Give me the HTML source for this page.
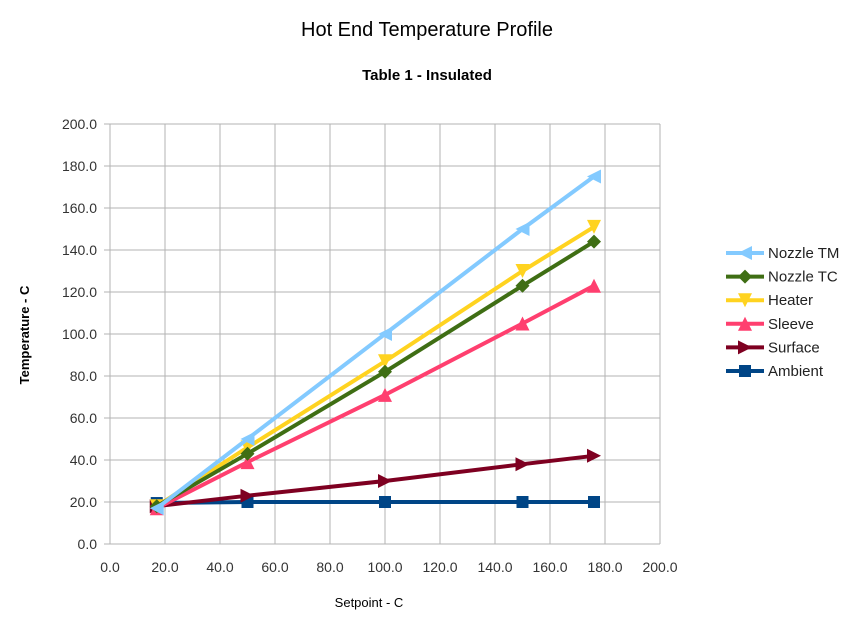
<!DOCTYPE html>
<html><head><meta charset="utf-8"><style>
body{margin:0;background:#fff;font-family:"Liberation Sans",sans-serif}
svg text{font-family:"Liberation Sans",sans-serif}
</style></head><body>
<svg id="chart" width="858" height="625">
<text x="427" y="36" font-size="20" text-anchor="middle">Hot End Temperature Profile</text>
<text x="427" y="80" font-size="15" font-weight="bold" text-anchor="middle">Table 1 - Insulated</text>
<text x="369" y="607" font-size="13" text-anchor="middle">Setpoint - C</text>
<text transform="translate(29,335) rotate(-90)" font-size="13" font-weight="bold" text-anchor="middle">Temperature - C</text>
<g id="grid"></g><g id="series"></g><g id="legend"></g>
</svg>
<script>
const xVals=[17,50,100,150,176];
const seriesNames=["Nozzle TM","Nozzle TC","Heater","Sleeve","Surface","Ambient"];
const nozzleTM=[17,50,100,150,175];
const nozzleTC=[18,43,82,123,144];
const heater=[18,46,87,130,151];
const sleeve=[17,39,71,105,123];
const surface=[18,23,30,38,42];
const ambient=[19.5,20,20,20,20];
const xTicks=[0,20,40,60,80,100,120,140,160,180,200];
const yTicks=[0,20,40,60,80,100,120,140,160,180,200];
const NS="http://www.w3.org/2000/svg";
const X=v=>110+v*2.75, Y=v=>544-v*2.1;
function mk(t,a,p){const e=document.createElementNS(NS,t);for(const k in a)e.setAttribute(k,a[k]);p.appendChild(e);return e;}
const g=document.getElementById('grid');
xTicks.forEach(t=>{const l=mk('line',{x1:X(t),x2:X(t),y1:Y(0),y2:Y(200)+0,stroke:'#b3b3b3','stroke-width':1},g);

const tx=mk('text',{x:X(t),y:572,'font-size':14,'text-anchor':'middle',fill:'#333'},g);tx.textContent=t.toFixed(1);
});
yTicks.forEach(t=>{const l=mk('line',{x1:X(0)-6,x2:X(200),y1:Y(t),y2:Y(t),stroke:'#b3b3b3','stroke-width':1},g);

const tx=mk('text',{x:97,y:Y(t)+5,'font-size':14,'text-anchor':'end',fill:'#333'},g);tx.textContent=t.toFixed(1);
});
const data=[nozzleTM,nozzleTC,heater,sleeve,surface,ambient];
const colors=["#83caff","#3f6e14","#ffd320","#ff3f6f","#7e0021","#004586"];
const shapes=["left","diamond","down","up","right","square"];
function marker(shape,x,y,c,p){const s=7;let pts;
if(shape==='square')return mk('rect',{x:x-s+1,y:y-s+1,width:2*s-2,height:2*s-2,fill:c},p);
if(shape==='diamond')pts=[[x,y-s],[x+s,y],[x,y+s],[x-s,y]];
if(shape==='left')pts=[[x-s,y],[x+s,y-s],[x+s,y+s]];
if(shape==='right')pts=[[x+s,y],[x-s,y-s],[x-s,y+s]];
if(shape==='up')pts=[[x,y-s],[x+s,y+s],[x-s,y+s]];
if(shape==='down')pts=[[x,y+s],[x+s,y-s],[x-s,y-s]];
return mk('polygon',{points:pts.map(q=>q.join(',')).join(' '),fill:c},p);}
const sg=document.getElementById('series');
for(let i=data.length-1;i>=0;i--){const grp=mk('g',{},sg);


mk('polyline',{points:xVals.map((x,j)=>X(x)+','+Y(data[i][j])).join(' '),fill:'none',stroke:colors[i],'stroke-width':4,'stroke-linejoin':'round'},grp);
xVals.forEach((x,j)=>{const m=marker(shapes[i],X(x),Y(data[i][j]),colors[i],grp);
});}
const lg=document.getElementById('legend');
seriesNames.forEach((n,i)=>{const y=253+i*23.6;const e=mk('g',{},lg);

mk('line',{x1:726,x2:764,y1:y,y2:y,stroke:colors[i],'stroke-width':4},e);
marker(shapes[i],745,y,colors[i],e);
const t=mk('text',{x:768,y:y+5,'font-size':15,fill:'#222'},e);t.textContent=n;});
</script>
</body></html>
